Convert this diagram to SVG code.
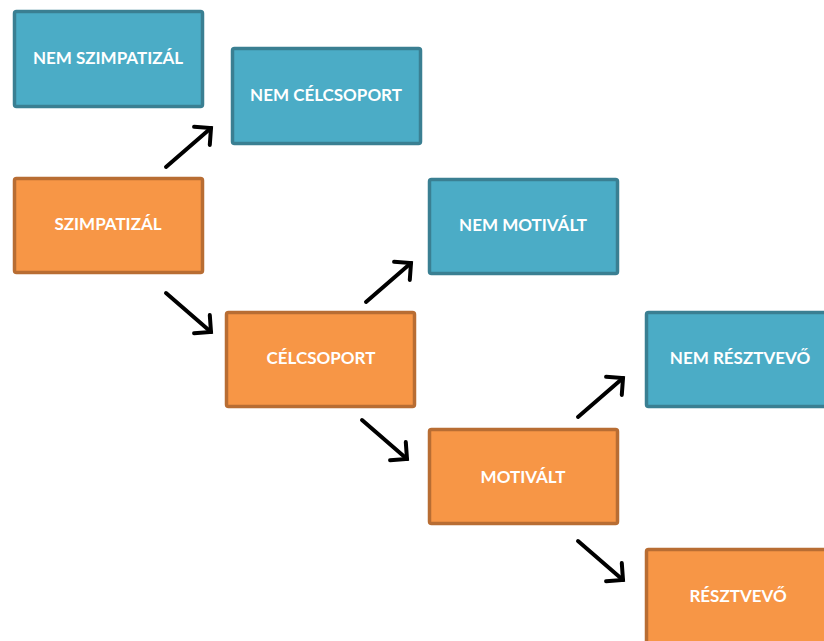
<svg xmlns="http://www.w3.org/2000/svg" width="824" height="641" viewBox="0 0 824 641">
<defs>
<style>
.blue rect{fill:#4BACC6;stroke:#3A7F92;stroke-width:3.5}
.orange rect{fill:#F79646;stroke:#B86D33;stroke-width:3.5}
text{font-family:Lato,"Open Sans","Liberation Sans",sans-serif;font-weight:bold;font-size:17px;fill:#FFFFFF;text-anchor:middle;dominant-baseline:central}
#connectors line{stroke:#000;stroke-width:4;stroke-linecap:round;marker-end:url(#ah)}
</style>
<marker id="ah" viewBox="-16 -16 20 32" refX="0" refY="0" markerWidth="20" markerHeight="32" orient="auto" markerUnits="userSpaceOnUse">
<path d="M-12,-12 L0,0 L-12,12" fill="none" stroke="#000" stroke-width="4" stroke-linecap="round" stroke-linejoin="miter"/>
</marker>
</defs>
<rect width="824" height="641" fill="#FFFFFF"/>
<g id="nem-szimpatizal" class="blue"><rect x="14.5" y="11.5" width="188" height="95" rx="2"/><text x="108" y="57">NEM SZIMPATIZÁL</text></g>
<g id="nem-celcsoport" class="blue"><rect x="232.5" y="48.5" width="188" height="95" rx="2"/><text x="326" y="94">NEM CÉLCSOPORT</text></g>
<g id="szimpatizal" class="orange"><rect x="14.5" y="178.5" width="188" height="94" rx="2"/><text x="108" y="223">SZIMPATIZÁL</text></g>
<g id="nem-motivalt" class="blue"><rect x="429.5" y="179.5" width="188" height="94" rx="2"/><text x="523" y="224">NEM MOTIVÁLT</text></g>
<g id="celcsoport" class="orange"><rect x="226.5" y="312.5" width="188" height="94" rx="2"/><text x="321" y="357">CÉLCSOPORT</text></g>
<g id="nem-resztvevo" class="blue"><rect x="646.5" y="312.5" width="188" height="94" rx="2"/><text x="740" y="357">NEM RÉSZTVEVŐ</text></g>
<g id="motivalt" class="orange"><rect x="429.5" y="429.5" width="188" height="94" rx="2"/><text x="523" y="476">MOTIVÁLT</text></g>
<g id="resztvevo" class="orange"><rect x="646.5" y="549.5" width="188" height="95" rx="2"/><text x="738" y="595">RÉSZTVEVŐ</text></g>
<g id="connectors">
<line x1="166" y1="167" x2="211" y2="128"/>
<line x1="166" y1="293" x2="211" y2="332"/>
<line x1="366" y1="302" x2="411" y2="263"/>
<line x1="362" y1="420" x2="407" y2="459"/>
<line x1="578" y1="417" x2="623" y2="378"/>
<line x1="578" y1="541" x2="623" y2="580"/>
</g>
</svg>
